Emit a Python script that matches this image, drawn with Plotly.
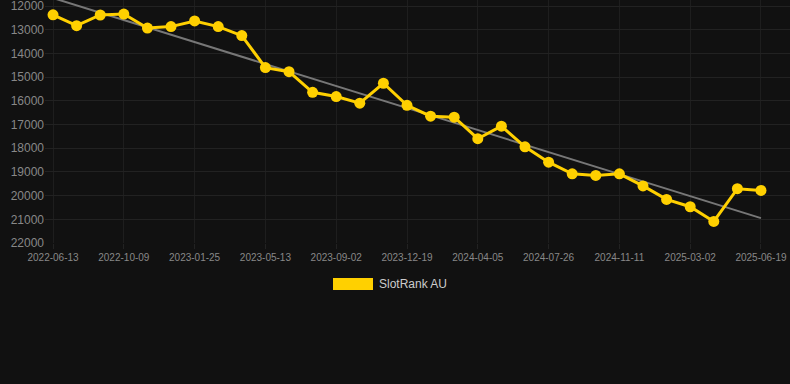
import numpy as np
import plotly.graph_objects as go

dates = [
    "2022-06-13", "2022-07-22", "2022-08-30", "2022-10-09", "2022-11-14",
    "2022-12-20", "2023-01-25", "2023-03-02", "2023-04-07", "2023-05-13",
    "2023-06-19", "2023-07-27", "2023-09-02", "2023-10-08", "2023-11-13",
    "2023-12-19", "2024-01-24", "2024-02-29", "2024-04-05", "2024-05-12",
    "2024-06-19", "2024-07-26", "2024-09-01", "2024-10-06", "2024-11-11",
    "2024-12-18", "2025-01-24", "2025-03-02", "2025-04-07", "2025-05-13",
    "2025-06-19",
]
ranks = [
    12370, 12830, 12380, 12340, 12930, 12870, 12630, 12870, 13250, 14600,
    14770, 15640, 15820, 16100, 15260, 16190, 16650, 16690, 17600, 17070,
    17940, 18590, 19080, 19150, 19080, 19590, 20160, 20470, 21090, 19710,
    19780,
]
tick_labels = dates[::3]
y_ticks = list(range(12000, 22001, 1000))
series_name = "SlotRank AU"

idx = np.arange(len(ranks))
slope, intercept = np.polyfit(idx, ranks, 1)
trend = slope * idx + intercept

fig = go.Figure()
fig.add_trace(go.Scatter(
    x=dates, y=trend, mode="lines",
    line=dict(color="#777777", width=2),
    showlegend=False, hoverinfo="skip", cliponaxis=False,
))
fig.add_trace(go.Scatter(
    x=dates, y=ranks, mode="lines+markers", name=series_name,
    line=dict(color="#FFD000", width=3),
    marker=dict(color="#FFD000", size=11),
    showlegend=False,
))

fig.add_shape(type="rect", xref="paper", yref="paper",
              x0=(333 - 45) / 745, x1=(373 - 45) / 745,
              y0=(243 - 290) / 243, y1=(243 - 278) / 243,
              fillcolor="#FFD000", line=dict(width=0))
fig.add_annotation(xref="paper", yref="paper",
                   x=(377 - 45) / 745, y=(243 - 284) / 243,
                   text=series_name, showarrow=False,
                   xanchor="left", yanchor="middle",
                   font=dict(family="Arial, Liberation Sans", size=12, color="#cccccc"))

fig.update_layout(
    width=790, height=384,
    margin=dict(l=45, r=0, t=0, b=141),
    paper_bgcolor="#111111", plot_bgcolor="#111111",
    font=dict(family="Arial, Liberation Sans", color="#888888"),
    showlegend=False,
)
fig.update_xaxes(
    type="category", range=[-0.34, 31.23],
    tickmode="array", tickvals=tick_labels, ticktext=tick_labels,
    tickfont=dict(size=10, color="#888888"),
    showgrid=True, gridcolor="#1e1e1e", gridwidth=1,
    ticks="outside", ticklen=5, tickcolor="#222222",
    showline=False, zeroline=False, ticklabeloverflow="allow",
)
fig.update_yaxes(
    range=[22000, 11747],
    tickmode="array", tickvals=y_ticks, ticktext=[str(v) for v in y_ticks],
    tickfont=dict(size=12, color="#888888"),
    showgrid=True, gridcolor="#222222", gridwidth=1,
    ticks="", showline=False, zeroline=False, ticklabeloverflow="allow",
)

fig.write_html(
    "out.html",
    config={"displayModeBar": False},
    post_script="document.body.style.margin='0';document.body.style.background='#111111';",
)
